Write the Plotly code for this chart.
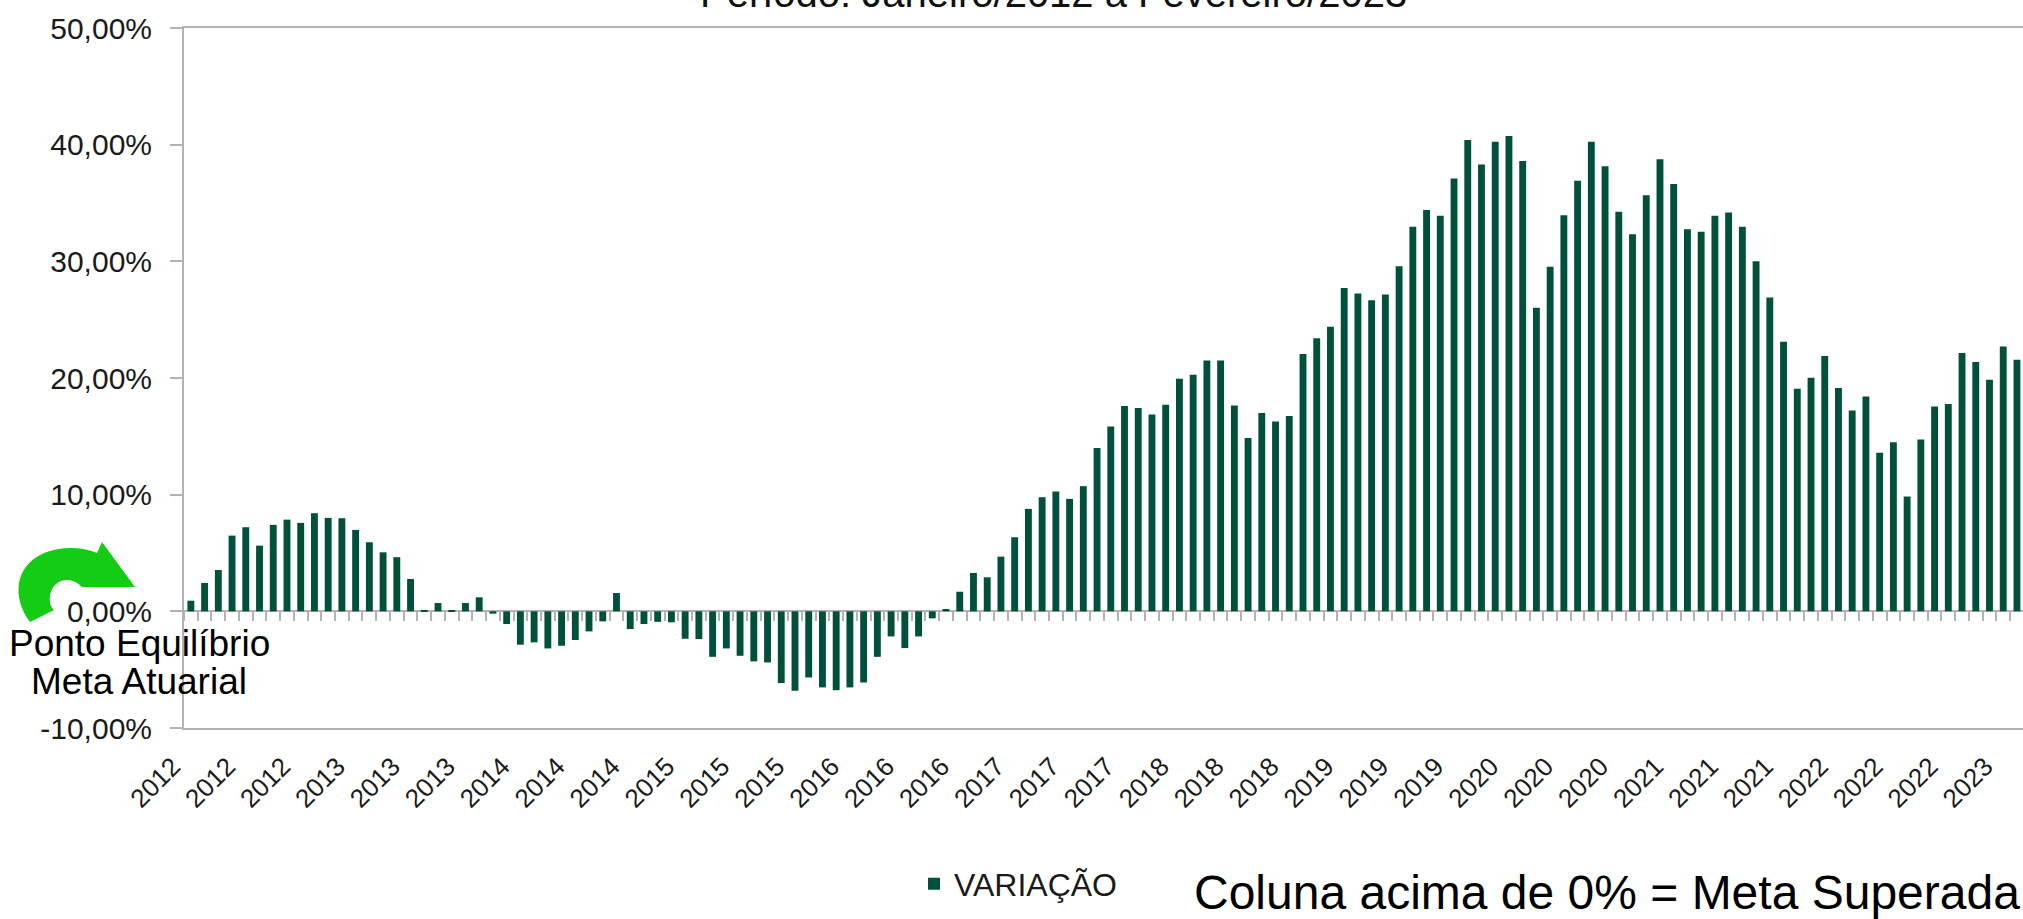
import plotly.graph_objects as go

# variação mensal acumulada vs meta atuarial (%), jan/2012 .. fev/2023
variacao = [
    0.91, 2.43, 3.54, 6.49, 7.21, 5.63, 7.41, 7.86, 7.58, 8.41, 8.01, 7.98,
    6.98, 5.92, 5.06, 4.64, 2.77, 0.10, 0.71, 0.10, 0.71, 1.20, -0.20, -1.09,
    -2.86, -2.66, -3.18, -2.95, -2.46, -1.72, -0.86, 1.57, -1.52, -1.09, -0.90, -0.94,
    -2.35, -2.38, -3.90, -3.18, -3.81, -4.29, -4.38, -6.15, -6.81, -5.67, -6.52, -6.76,
    -6.52, -6.10, -3.90, -2.15, -3.15, -2.15, -0.60, 0.20, 1.68, 3.29, 2.92, 4.69,
    6.35, 8.78, 9.78, 10.27, 9.64, 10.73, 13.99, 15.85, 17.60, 17.42, 16.88, 17.71,
    19.94, 20.28, 21.51, 21.51, 17.65, 14.85, 17.00, 16.28, 16.74, 22.05, 23.40, 24.40,
    27.72, 27.24, 26.66, 27.15, 29.58, 32.96, 34.39, 33.90, 37.11, 40.40, 38.31, 40.26,
    40.74, 38.59, 26.03, 29.53, 33.96, 36.91, 40.26, 38.16, 34.25, 32.33, 35.67, 38.76,
    36.62, 32.76, 32.53, 33.90, 34.19, 32.96, 30.01, 26.89, 23.10, 19.08, 20.03, 21.89,
    19.14, 17.22, 18.42, 13.59, 14.50, 9.84, 14.73, 17.56, 17.77, 22.15, 21.37, 19.85,
    22.71, 21.57,
]

# one label every 4 months
rotulos_x = [
    "2012", "2012", "2012", "2013", "2013", "2013", "2014", "2014", "2014",
    "2015", "2015", "2015", "2016", "2016", "2016", "2017", "2017", "2017",
    "2018", "2018", "2018", "2019", "2019", "2019", "2020", "2020", "2020",
    "2021", "2021", "2021", "2022", "2022", "2022", "2023",
]

y_ticks = [-10, 0, 10, 20, 30, 40, 50]
y_rotulos = ["-10,00%", "0,00%", "10,00%", "20,00%", "30,00%", "40,00%", "50,00%"]

VERDE = "#00503c"
CINZA = "#b3b3b3"
FONTE = "Liberation Sans, Arial, sans-serif"

# plot area in pixels (the chart is cropped on the right)
L, R, T, B = 184, 2023, 28, 728
W, H = 2023, 919


def px(x):
    return (x - L) / (R - L)


def py(y):
    return (B - y) / (B - T)


x = list(range(len(variacao)))
x_max = -0.5 + (R - L) / 13.73

fig = go.Figure()
fig.add_trace(go.Bar(x=x, y=variacao, width=0.5, marker_color=VERDE,
                     marker_line_width=0, name="VARIAÇÃO"))
# helper trace so the tick-only axis on the zero line gets drawn
fig.add_trace(go.Scatter(x=[], y=[], xaxis="x2", showlegend=False))

# curved green arrow next to the 0% label (pixel outline -> paper coords)
seta = [("M", 30, 622), ("C", 12, 598), ("", 14, 566), ("", 44, 553),
        ("C", 62, 546), ("", 82, 547), ("", 97, 553), ("L", 102, 542),
        ("L", 135, 587), ("L", 82, 587), ("C", 70, 574), ("", 52, 580),
        ("", 50, 596), ("C", 49, 603), ("", 51, 607), ("", 54, 610)]
caminho = " ".join(f"{c} {px(a):.5f},{py(b):.5f}".strip() for c, a, b in seta) + " Z"
fig.add_shape(type="path", path=caminho, xref="paper", yref="paper",
              fillcolor="#14cc14", line_width=0, layer="below")

fig.add_annotation(text="Período: Janeiro/2012 a Fevereiro/2023", xref="paper", yref="paper",
                   x=px(1053), y=py(-7), xanchor="center", yanchor="middle",
                   showarrow=False, font=dict(size=40, color="#111111", family=FONTE))
fig.add_annotation(text="Ponto Equilíbrio", xref="paper", yref="paper",
                   x=px(139), y=py(643), xanchor="center", yanchor="middle",
                   showarrow=False, font=dict(size=37, color="black", family=FONTE))
fig.add_annotation(text="Meta Atuarial", xref="paper", yref="paper",
                   x=px(139), y=py(681), xanchor="center", yanchor="middle",
                   showarrow=False, font=dict(size=37, color="black", family=FONTE))
fig.add_annotation(text="Coluna acima de 0% = Meta Superada", xref="paper", yref="paper",
                   x=px(1607), y=py(892), xanchor="center", yanchor="middle",
                   showarrow=False, font=dict(size=48, color="black", family=FONTE))

fig.update_layout(
    width=W, height=H,
    margin=dict(l=L, r=W - R, t=T, b=H - B, pad=0),
    plot_bgcolor="white", paper_bgcolor="white",
    font=dict(family=FONTE, size=30, color="#1a1a1a"),
    bargap=0.5,
    showlegend=True,
    legend=dict(orientation="h", x=px(914), y=py(884), xanchor="left", yanchor="middle",
                font=dict(size=32, color="#1a1a1a"), bgcolor="rgba(0,0,0,0)"),
    xaxis=dict(range=[-0.5, x_max], tickmode="array", tickvals=x[::4], ticktext=rotulos_x,
               tickangle=-45, tickfont=dict(size=26, color="#1a1a1a"), ticks="",
               ticklabelstandoff=11, ticklabelshift=-18,
               showline=True, mirror=True, linecolor=CINZA, linewidth=2,
               showgrid=False, zeroline=False),
    xaxis2=dict(range=[-0.5, x_max], overlaying="x", anchor="free", position=10 / 60,
                tickmode="linear", tick0=-0.5, dtick=1, ticks="outside", ticklen=9,
                tickwidth=1.5, tickcolor=CINZA, showticklabels=False,
                showline=False, showgrid=False, zeroline=False),
    yaxis=dict(range=[-10, 50], tickmode="array", tickvals=y_ticks, ticktext=y_rotulos,
               tickfont=dict(size=30, color="#1a1a1a"),
               ticks="outside", ticklen=12, tickcolor=CINZA, tickwidth=2,
               ticklabelstandoff=12,
               showline=True, linecolor=CINZA, linewidth=2,
               showgrid=False, zeroline=True, zerolinecolor=CINZA, zerolinewidth=2),
)

fig.write_html("out.html", config={"displayModeBar": False},
               post_script="document.body.style.margin='0';")
